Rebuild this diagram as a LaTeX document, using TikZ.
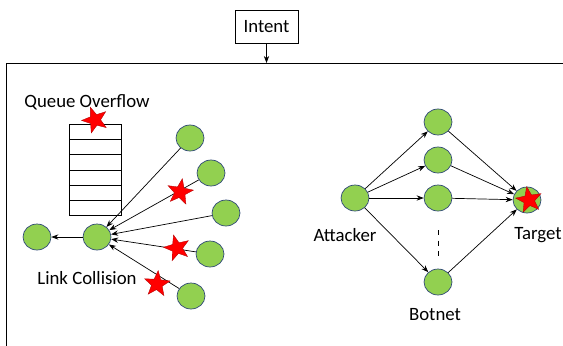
\documentclass[tikz,border=0pt]{standalone}
\usepackage{fontspec}
\setmainfont{Carlito}
\usetikzlibrary{shapes.geometric,arrows.meta}
\definecolor{nodegreen}{RGB}{146,208,80}
\definecolor{nodeline}{RGB}{47,72,120}
\begin{document}
\begin{tikzpicture}[x=0.02cm,y=-0.02cm,font=\fontsize{10.7}{12}\selectfont,
  host/.style={ellipse,draw=nodeline,fill=nodegreen,thin,minimum width=0.56cm,minimum height=0.52cm,inner sep=0pt},
  hit/.style={star,star points=5,star point ratio=2.4,fill=red,draw=red!70!black,very thin,minimum size=0.54cm,inner sep=0pt},
  >={Stealth[length=4pt,width=3pt]}]
\useasboundingbox (0,0) rectangle (563,345);
% frame and intent
\node[draw,minimum width=1.26cm,minimum height=0.66cm] (intent) at (266.5,26.5) {Intent};
\draw (6,63) rectangle (575,360);
\coordinate (top) at (266.5,63);
\draw[->] (intent) -- (top);
% queue
\foreach \i in {0,...,5}
  \draw (69,124+15.3*\i) rectangle (121,139.3+15.3*\i);
\node (qlabel) at (87,102) {Queue Overflow};
\node[hit,rotate=20] (qstar) at (95,120) {};
% link collision side
\node[host] (sink) at (37,237) {};
\node[host] (relay) at (97,237) {};
\node[host] (s1) at (190,138) {};
\node[host] (s2) at (211,173) {};
\node[host] (s3) at (226,213) {};
\node[host] (s4) at (210,254) {};
\node[host] (s5) at (191,296) {};
\draw[->] (relay) -- (sink);
\foreach \s in {s1,s2,s3,s4,s5}
  \draw[->] (\s) -- (relay);
\node[hit,rotate=-10] (lstar1) at (180,192) {};
\node[hit,rotate=15] (lstar2) at (177,248) {};
\node[hit,rotate=-5] (lstar3) at (157,284) {};
\node (lclabel) at (87,278) {Link Collision};
% botnet side
\node[host] (attacker) at (355,198) {};
\node[host] (b1) at (438,122) {};
\node[host] (b2) at (438,160) {};
\node[host] (b3) at (438,198) {};
\node[host] (b4) at (438,282) {};
\node[host] (target) at (527,200) {};
\node[hit,rotate=10] (tstar) at (529,200) {};
\foreach \b in {b1,b2,b3,b4} {
  \draw[->] (attacker) -- (\b);
  \draw[->] (\b) -- (target);
}
\draw[dashed] (b3) ++(0,32) coordinate (d1) -- ++(0,27) coordinate (d2);
\node (alabel) at (345,235) {Attacker};
\node (tlabel) at (538,235) {Target};
\node (blabel) at (435,315) {Botnet};
\end{tikzpicture}
\end{document}
